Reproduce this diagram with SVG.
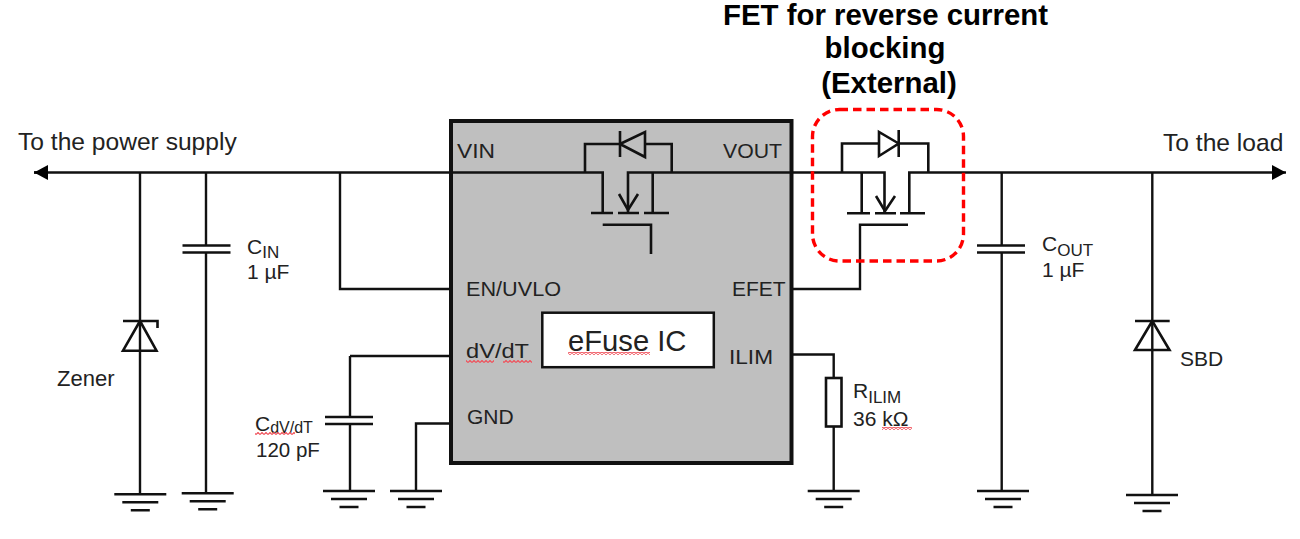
<svg xmlns="http://www.w3.org/2000/svg" width="1300" height="539" viewBox="0 0 1300 539">
<style>
.w{fill:none;stroke:#111;stroke-width:2.4}
.s{fill:none;stroke:#111;stroke-width:2.6}
text{font-family:"Liberation Sans",Arial,sans-serif;fill:#222}
.l{font-size:21px}
.sub{font-size:17px}
.big{font-size:24.600px}
.t{font-size:29.400px;font-weight:bold;fill:#000;text-anchor:middle}
.q{fill:url(#sq)}
</style>
<defs>
<pattern id="sq" width="4" height="3" patternUnits="userSpaceOnUse"><path d="M0 2.500L2 0.500L4 2.500" fill="none" stroke="#f0505a" stroke-width="1.200"/></pattern>
<g id="gnd"><path class="s" d="M-26 0H26M-18 8H18M-9.500 16H9.500"/></g>
<g id="cap"><path class="s" d="M-24 0H24M-24 7H24"/></g>
<marker id="ar" markerWidth="15" markerHeight="16" refX="14" refY="7.500" orient="auto-start-reverse" markerUnits="userSpaceOnUse"><path d="M0 0L14 7.500L0 15Z" fill="#000"/></marker>
</defs>
<rect width="1300" height="539" fill="#fff"/>
<g id="ic">
<rect x="451" y="121" width="340.500" height="342" fill="#bfbfbf" stroke="#111" stroke-width="4"/>
<rect x="542.300" y="312.700" width="171.500" height="54.500" fill="#fff" stroke="#111" stroke-width="2.500"/>
<text class="l" x="457" y="158" textLength="38" lengthAdjust="spacingAndGlyphs">VIN</text>
<text class="l" x="723" y="158" textLength="59" lengthAdjust="spacingAndGlyphs">VOUT</text>
<text class="l" x="466" y="296" textLength="95" lengthAdjust="spacingAndGlyphs">EN/UVLO</text>
<text class="l" x="732" y="296">EFET</text>
<text class="l" x="466" y="358" textLength="63" lengthAdjust="spacingAndGlyphs">dV/dT</text>
<rect class="q" x="466" y="360" width="28" height="3"/><rect class="q" x="503" y="360" width="29" height="3"/>
<text class="l" x="729" y="364" textLength="44" lengthAdjust="spacingAndGlyphs">ILIM</text>
<text class="l" x="467" y="424">GND</text>
<text x="568" y="351" font-size="29.200px">eFuse IC</text>
<rect class="q" x="568" y="352" width="82" height="3"/>
</g>
<g id="connectors">
<path class="s" d="M34 172.500H602.700V213M628 212V172.500H884.500V212M909.300 213V172.500H1286" marker-end="url(#ar)"/>
<path class="s" d="M48 172.500H34" marker-end="url(#ar)"/>
<path class="w" d="M140 172.500V494M206 172.500V245M206 252V493M340 172.500V289H450M350 356H450M350 356V417M350 424V491M416 491V423.500H450M793 289H860V224.700H908M793 354.500H833.700V378M833.700 427V491M1001.700 172.500V245M1001.700 252V491M1152.300 172.500V495"/>
</g>
<g id="fet-internal">
<path class="s" d="M585 172.500V144H620M645 144H671.700V172.500M620 131V157M620 144L645 132V157Z"/>
<path class="s" d="M591 213H613M618 213H639M644 213H669M652.700 172.500V213M619 194L628 210L638 194M602.700 224.700H651V254"/>
</g>
<g id="fet-external">
<path class="s" d="M842 172.500V143.500H879M899 143.500H928.300V172.500M898.700 130V157M898.700 143.500L879 132V156Z"/>
<path class="s" d="M847 213.300H870M875 213.300H896M900 213.300H925M861.700 172.500V213M876 196L885 211L895 196"/>
<rect x="812.500" y="109.500" width="151" height="151.500" rx="27" fill="none" stroke="#f00" stroke-width="3.400" stroke-dasharray="8.500 5"/>
</g>
<g id="zener"><path class="s" d="M140 321L123 350.700H156.500ZM123 321H157.500V328"/></g>
<g id="sbd"><path class="s" d="M1152.300 321L1135 350H1169.500ZM1135 321H1169.700"/></g>
<g id="cin"><use href="#cap" x="206.500" y="245.500"/><text class="l" x="247" y="254">C<tspan class="sub" dy="4">IN</tspan></text><text class="l" x="247" y="279">1 µF</text></g>
<g id="cout"><use href="#cap" x="1001" y="245.500"/><text class="l" x="1042" y="251">C<tspan class="sub" dy="5">OUT</tspan></text><text class="l" x="1042" y="277">1 µF</text></g>
<g id="cdvdt"><use href="#cap" x="349" y="417"/><text class="l" x="255" y="431">C<tspan font-size="16" dy="2">dV/dT</tspan></text><rect class="q" x="255" y="432" width="40" height="3"/><text x="256" y="457" font-size="20.500">120 pF</text></g>
<g id="rilim"><rect x="826" y="378" width="15.500" height="48.500" fill="#fff" stroke="#111" stroke-width="2.600"/><text class="l" x="853" y="398">R<tspan class="sub" dy="5">ILIM</tspan></text><text class="l" x="853" y="426">36 kΩ</text><rect class="q" x="882" y="427" width="30" height="3"/></g>
<g id="grounds">
<use href="#gnd" x="140.300" y="494.300"/><use href="#gnd" x="207.700" y="493.300"/><use href="#gnd" x="349" y="491"/><use href="#gnd" x="416" y="491"/><use href="#gnd" x="833.700" y="491"/><use href="#gnd" x="1003" y="491"/><use href="#gnd" x="1152" y="495"/>
</g>
<g id="labels">
<text class="big" x="18" y="150">To the power supply</text>
<text class="big" x="1163" y="151">To the load</text>
<text x="57" y="386" font-size="22">Zener</text>
<text class="l" x="1180" y="366">SBD</text>
<text class="t" x="885.500" y="24.500">FET for reverse current</text>
<text class="t" x="885" y="58">blocking</text>
<text class="t" x="889" y="93">(External)</text>
</g>
</svg>
